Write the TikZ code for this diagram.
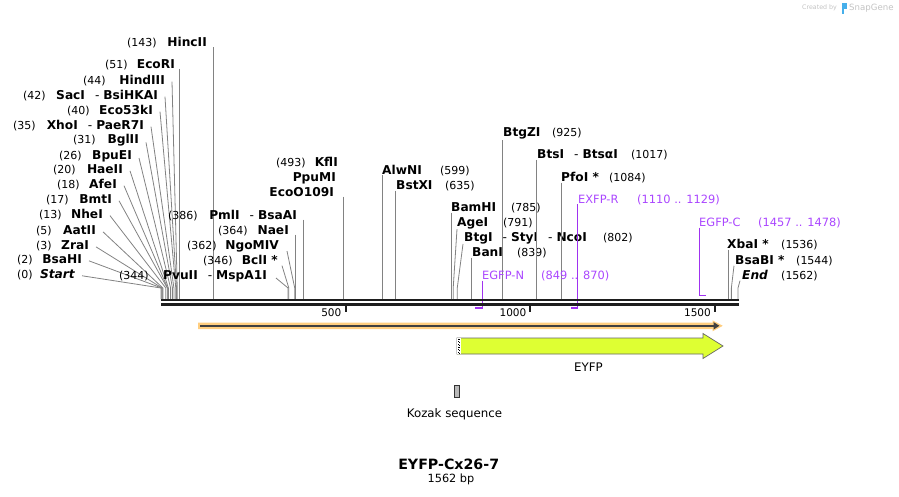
\documentclass[tikz,border=0pt]{standalone}
\usepackage{fontspec}
\setmainfont{DejaVu Sans}
\usetikzlibrary{arrows.meta}
\definecolor{lngray}{RGB}{130,130,130}
\definecolor{primc}{RGB}{160,50,240}
\definecolor{primt}{RGB}{170,70,255}
\definecolor{bbc}{RGB}{30,30,30}
\definecolor{orng}{RGB}{255,206,128}
\definecolor{yfpc}{RGB}{222,255,51}
\definecolor{logoc}{RGB}{195,195,195}
\definecolor{logob}{RGB}{70,175,235}
\newcommand{\dsep}{\mdseries\hspace{10pt}-\hspace{4pt}\bfseries}
\begin{document}
\begin{tikzpicture}[x=1pt,y=-1pt,
  nm/.style={inner sep=0pt,font=\fontsize{12.2}{14}\selectfont\bfseries},
  nb/.style={inner sep=0pt,font=\fontsize{11}{13}\selectfont},
  ptxt/.style={inner sep=0pt,font=\fontsize{11.4}{13}\selectfont,text=primt},
  E/.style={anchor=base east,yshift=-4.2pt},
  W/.style={anchor=base west,yshift=-4.2pt},
  sl/.style={draw=lngray,line width=0.8pt},
  pl/.style={draw=primc,line width=1.3pt},
  bbl/.style={draw=bbc,line width=2.3pt},
  tick/.style={draw=bbc,line width=2pt},
]
\useasboundingbox (0,0) rectangle (899,496);

% ---- site coordinates on the backbone ----
\foreach \n/\x in {0/161.0,2/161.74,3/162.11,5/162.85,13/165.80,17/167.28,18/167.65,20/168.39,26/170.60,31/172.45,35/173.93,40/175.78,42/176.51,44/177.25,51/179.84,143/213.82,344/288.07,346/288.81,362/294.72,364/295.46,386/303.59,493/343.11,599/382.27,635/395.57,785/450.98,791/453.20,802/457.26,839/470.93,925/502.70,1017/536.68,1084/561.43,1536/728.40,1544/731.35,1562/738.00}{
  \coordinate (p\n) at (\x,299);
  \coordinate (b\n) at (\x,288);
}
% primer coordinates
\coordinate (q849) at (474.62,308);
\coordinate (q870) at (482.38,308);
\coordinate (q1110) at (571.03,308);
\coordinate (q1129) at (577.8,308);
\coordinate (q1457) at (699.21,295.5);
\coordinate (q1478) at (706.2,295.5);

% ---- left cluster labels ----
\node[nb,W] (m143) at (127,42.5) {(143)};  \node[nm,E] (n143) at (207,42.5) {HincII};
\node[nb,W] (m51) at (105,64) {(51)};      \node[nm,E] (n51) at (175,64) {EcoRI};
\node[nb,W] (m44) at (83,80) {(44)};       \node[nm,E] (n44) at (165,80) {HindIII};
\node[nb,W] (m42) at (23,95) {(42)};       \node[nm,E] (n42) at (158,95) {SacI\dsep BsiHKAI};
\node[nb,W] (m40) at (67,110) {(40)};      \node[nm,E] (n40) at (153,110) {Eco53kI};
\node[nb,W] (m35) at (13,125) {(35)};      \node[nm,E] (n35) at (144,125) {XhoI\dsep PaeR7I};
\node[nb,W] (m31) at (73,139.5) {(31)};    \node[nm,E] (n31) at (139,139.5) {BglII};
\node[nb,W] (m26) at (59,155) {(26)};      \node[nm,E] (n26) at (132,155) {BpuEI};
\node[nb,W] (m20) at (53,169) {(20)};      \node[nm,E] (n20) at (123,169) {HaeII};
\node[nb,W] (m18) at (57,184) {(18)};      \node[nm,E] (n18) at (117,184) {AfeI};
\node[nb,W] (m17) at (46,199) {(17)};      \node[nm,E] (n17) at (112,199) {BmtI};
\node[nb,W] (m13) at (39,214) {(13)};      \node[nm,E] (n13) at (103,214) {NheI};
\node[nb,W] (m5) at (36,230) {(5)};        \node[nm,E] (n5) at (96,230) {AatII};
\node[nb,W] (m3) at (36,245) {(3)};        \node[nm,E] (n3) at (89,245) {ZraI};
\node[nb,W] (m2) at (17,259) {(2)};        \node[nm,E] (n2) at (82,259) {BsaHI};
\node[nb,W] (m0) at (17,274) {(0)};        \node[nm,E] (n0) at (75,274) {\itshape Start};

\draw[sl] (n143.south -| p143) -- (p143);
\draw[sl] (n51.south -| p51) -- (p51);
\foreach \n in {44,42,40,35,31,26,20,18,17,13,5,3,2,0}{
  \draw[sl] ([xshift=7pt,yshift=-2pt]n\n.east) -- (b\n) -- (p\n);
}

% ---- middle labels ----
\node[nb,W] (m386) at (168,215) {(386)};   \node[nm,E] (n386) at (297,215) {PmlI\dsep BsaAI};
\node[nb,W] (m364) at (218,230) {(364)};   \node[nm,E] (n364) at (289,230) {NaeI};
\node[nb,W] (m362) at (187,245) {(362)};   \node[nm,E] (n362) at (279,245) {NgoMIV};
\node[nb,W] (m346) at (203,260) {(346)};   \node[nm,E] (n346) at (278,260) {BclI *};
\node[nb,W] (m344) at (119,275) {(344)};   \node[nm,E] (n344) at (267,275) {PvuII\dsep MspA1I};
\node[nb,W] (m493) at (276,162) {(493)};   \node[nm,E] (n493a) at (338,162) {KflI};
\node[nm,E] (n493b) at (336,177) {PpuMI};
\node[nm,E] (n493c) at (334,192) {EcoO109I};

\draw[sl] (n386.south -| p386) -- (p386);
\draw[sl] (n364.south -| p364) -- (p364);
\draw[sl] ([xshift=8pt,yshift=-5pt]n362.east) -- (b362) -- (p362);
\draw[sl] ([xshift=4pt,yshift=-6pt]n346.east) -- (b346) -- (p346);
\draw[sl] ([xshift=9pt,yshift=-2pt]n344.east) -- (b344) -- (p344);
\draw[sl] (n493c.south -| p493) -- (p493);

% ---- right labels ----
\node[nm,W] (n599) at (382,170) {AlwNI};   \node[nb,W] (m599) at (440,170) {(599)};
\node[nm,W] (n635) at (396,185) {BstXI};   \node[nb,W] (m635) at (445,185) {(635)};
\node[nm,W] (n925) at (503,132) {BtgZI};   \node[nb,W] (m925) at (552,132) {(925)};
\node[nm,W] (n1017) at (537,154) {BtsI\dsep Btsα{}I}; \node[nb,W] (m1017) at (631,154) {(1017)};
\node[nm,W] (n1084) at (561,177) {PfoI *};  \node[nb,W] (m1084) at (609,177) {(1084)};
\node[nm,W] (n785) at (451,207) {BamHI};   \node[nb,W] (m785) at (511,207) {(785)};
\node[nm,W] (n791) at (457,222) {AgeI};    \node[nb,W] (m791) at (503,222) {(791)};
\node[nm,W] (n802) at (464,237) {BtgI\dsep StyI\dsep NcoI}; \node[nb,W] (m802) at (603,237) {(802)};
\node[nm,W] (n839) at (472,252) {BanI};    \node[nb,W] (m839) at (517,252) {(839)};
\node[nm,W] (n1536) at (727,244) {XbaI *}; \node[nb,W] (m1536) at (781,244) {(1536)};
\node[nm,W] (n1544) at (735,260) {BsaBI *}; \node[nb,W] (m1544) at (796,260) {(1544)};
\node[nm,W] (n1562) at (742,275) {\itshape End}; \node[nb,W] (m1562) at (781,275) {(1562)};

\foreach \n in {599,635,925,1017,1084,785,839,1536}{
  \draw[sl] ([yshift=-1pt]n\n.south -| p\n) -- (p\n);
}
\draw[sl] ([yshift=-6pt]n791.west) -- (b791) -- (p791);
\draw[sl] ([xshift=-1pt,yshift=-6pt]n802.west) -- (b802) -- (p802);
\draw[sl] ([xshift=-1pt,yshift=-6pt]n1544.west) -- (b1544) -- (p1544);
\draw[sl] ([xshift=-2pt,yshift=-6pt]n1562.west) -- (b1562) -- (p1562);

% ---- primers ----
\node[ptxt,W] (pr1) at (578,199) {EXFP-R};  \node[ptxt,W] (pr1n) at (637,199) {(1110 .. 1129)};
\node[ptxt,W] (pr2) at (482,275) {EGFP-N};  \node[ptxt,W] (pr2n) at (541,275) {(849 .. 870)};
\node[ptxt,W] (pr3) at (699,222) {EGFP-C};  \node[ptxt,W] (pr3n) at (758,222) {(1457 .. 1478)};
\draw[pl] ([yshift=-1pt]pr1.south -| q1129) -- (q1129) -- (q1110);
\draw[pl] ([yshift=-1pt]pr2.south -| q870) -- (q870) -- (q849);
\draw[pl] ([yshift=-1pt]pr3.south -| q1457) -- (q1457) -- (q1478);

% ---- backbone ----
\coordinate (bbA) at (161,300.2);  \coordinate (bbB) at (738.6,300.2);
\coordinate (bbC) at (161,304.4);  \coordinate (bbD) at (738.6,304.4);
\draw[bbl] (bbA) -- (bbB);
\draw[bbl] (bbC) -- (bbD);

% ticks
\draw[tick] (345.7,305.5) -- (345.7,311.5);
\draw[tick] (530.4,305.5) -- (530.4,311.5);
\draw[tick] (715.1,305.5) -- (715.1,311.5);
\node[inner sep=0pt,font=\fontsize{10.5}{12}\selectfont,E] (t500) at (341.5,312.5) {500};
\node[inner sep=0pt,font=\fontsize{10.5}{12}\selectfont,E] (t1000) at (526.5,312.5) {1000};
\node[inner sep=0pt,font=\fontsize{10.5}{12}\selectfont,E] (t1500) at (711,312.5) {1500};

% ---- orange feature arrow ----
\fill[orng] (198,322.6) -- (712.5,322.6) -- (712.5,320.3) -- (722.8,325.8) -- (712.5,331.3) -- (712.5,329) -- (198,329) -- cycle;
\draw[draw=bbc!85,line width=2pt,-{Triangle[length=6pt,width=7pt]}] (200,325.8) -- (719.5,325.8);

% ---- EYFP arrow ----
\draw[draw=gray!80!black,fill=yfpc,line width=0.7pt] (457,338) -- (703,338) -- (703,333.5) -- (723,346) -- (703,358.5) -- (703,354) -- (457,354) -- cycle;
\fill[white] (457.4,338.4) rectangle (460.6,353.6);
\draw[black,dotted,line width=0.7pt] (458.2,338.5) -- (458.2,353.5);
\draw[black,dotted,line width=0.7pt] (459.8,339.2) -- (459.8,353.5);
\node[inner sep=0pt,font=\fontsize{11.8}{14}\selectfont] (eyfp) at (588.5,367.5) {EYFP};

% ---- Kozak ----
\node[draw=gray!40!black,fill=gray!55,line width=0.6pt,inner sep=0pt,minimum width=5pt,minimum height=12pt] (kz) at (456.5,391) {};
\node[inner sep=0pt,font=\fontsize{11.8}{14}\selectfont] (kzl) at (454.5,414) {Kozak sequence};

% ---- title ----
\node[inner sep=0pt,font=\fontsize{14.2}{16}\selectfont\bfseries] (ttl) at (448.7,464) {EYFP-Cx26-7};
\node[inner sep=0pt,font=\fontsize{11.3}{13}\selectfont] (len) at (451,479.5) {1562 bp};

% ---- created by ----
\node[inner sep=0pt,anchor=west,font=\fontsize{6.3}{7}\selectfont,text=logoc] (cb) at (802,8) {Created by};
\fill[logob] (841.5,3) rectangle (843.5,13.5);
\fill[logob] (843.5,3) rectangle (846.5,8.8);
\node[inner sep=0pt,anchor=west,font=\fontsize{8.6}{10}\selectfont,text=logoc] (sg) at (849,8) {SnapGene};
\end{tikzpicture}
\end{document}
